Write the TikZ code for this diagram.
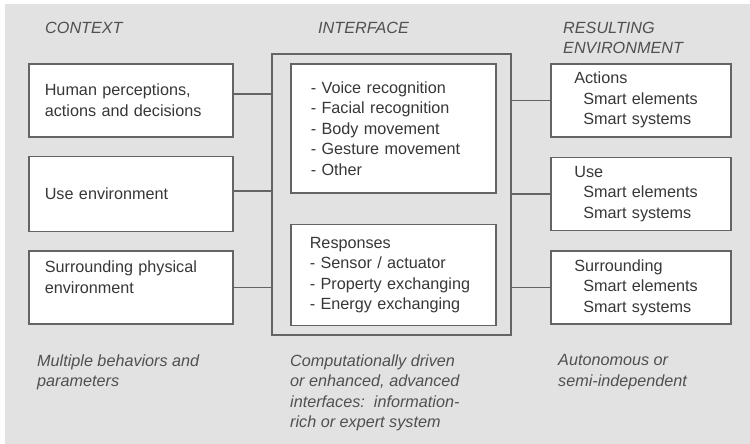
\documentclass[tikz,border=0pt]{standalone}
\usepackage{fontspec}
\setmainfont{Liberation Sans}
\usetikzlibrary{positioning, fit}
\usepackage{xcolor}
\definecolor{bgcolor}{RGB}{226,226,226}
\definecolor{boxborder}{RGB}{100,100,100}
\definecolor{txtcolor}{RGB}{55,55,55}
\definecolor{notecolor}{RGB}{80,80,80}
\newcommand{\diagfont}{\fontsize{16.2}{20.5}\selectfont}
\tikzset{
    block/.style={rectangle, draw=boxborder, fill=white, line width=1.6pt,
        anchor=north west, align=left, inner xsep=16pt, inner ysep=0pt,
        text=txtcolor, font=\diagfont},
    note/.style={anchor=north west, align=left, inner sep=0pt,
        text=notecolor, font=\diagfont\itshape},
    link/.style={draw=boxborder, line width=1.6pt}
}
\newcommand{\sub}[1]{\hspace*{9pt}#1}

\begin{document}
\begin{tikzpicture}[x=1pt, y=-1pt, node distance=18pt]

    % background
    \fill[white] (0,0) rectangle (750,444);
    \fill[bgcolor] (5,4) rectangle (750,444);

    % column headings
    \node[note] (hctx) at (45,21.5) {CONTEXT};
    \node[note] (hint) at (318,21.5) {INTERFACE};
    \node[note] (hres) at (563,21.5) {RESULTING\\ENVIRONMENT};

    % Context column
    \node[block, text width=172pt, minimum height=73pt] (ctx1) at (28,63)
        {Human perceptions,\\actions and decisions};
    \node[block, text width=172pt, minimum height=75pt, below=of ctx1.south west, anchor=north west] (ctx2)
        {Use environment};
    \node[block, text width=172pt, minimum height=73pt, below=of ctx2.south west, anchor=north west] (ctx3)
        {Surrounding physical\\environment\\~};

    % Interface column
    \coordinate (ifaceW) at (272,54);
    \coordinate (ifaceE) at (511,335);
    \draw[link] (ifaceW) rectangle (ifaceE);
    \node[block, text width=165pt, inner xsep=20pt, minimum height=129pt] (sense) at (290,63)
        {- Voice recognition\\- Facial recognition\\- Body movement\\- Gesture movement\\- Other};
    \node[block, text width=167pt, inner xsep=19pt, minimum height=101pt, below=30pt of sense.south west, anchor=north west] (resp)
        {Responses\\- Sensor / actuator\\- Property exchanging\\- Energy exchanging};

    % Resulting environment column
    \node[block, text width=133pt, inner xsep=23.5pt, minimum height=73pt] (res1) at (550,63)
        {Actions\\\sub{Smart elements}\\\sub{Smart systems}};
    \node[block, text width=133pt, inner xsep=23.5pt, minimum height=73pt, below=19pt of res1.south west, anchor=north west] (res2)
        {Use\\\sub{Smart elements}\\\sub{Smart systems}};
    \node[block, text width=133pt, inner xsep=23.5pt, minimum height=73pt, below=19pt of res2.south west, anchor=north west] (res3)
        {Surrounding\\\sub{Smart elements}\\\sub{Smart systems}};

    % footnotes
    \node[note] (fctx) at (37,354.5) {Multiple behaviors and\\parameters};
    \node[note] (fint) at (290,354.5) {Computationally driven\\or enhanced, advanced\\interfaces:\ \ information-\\rich or expert system};
    \node[note] (fres) at (558,354.5) {Autonomous or\\semi-independent};

    % connectors
    \draw[link] ([yshift=6.5pt]ctx1.east) -- ([yshift=6.5pt]ctx1.east -| ifaceW);
    \draw[link] ([yshift=3pt]ctx2.east) -- ([yshift=3pt]ctx2.east -| ifaceW);
    \draw[link] (ctx3.east) -- (ctx3.east -| ifaceW);
    \draw[link] (res1.west -| ifaceE) -- (res1.west);
    \draw[link] (res2.west -| ifaceE) -- (res2.west);
    \draw[link] (res3.west -| ifaceE) -- (res3.west);

\end{tikzpicture}
\end{document}
